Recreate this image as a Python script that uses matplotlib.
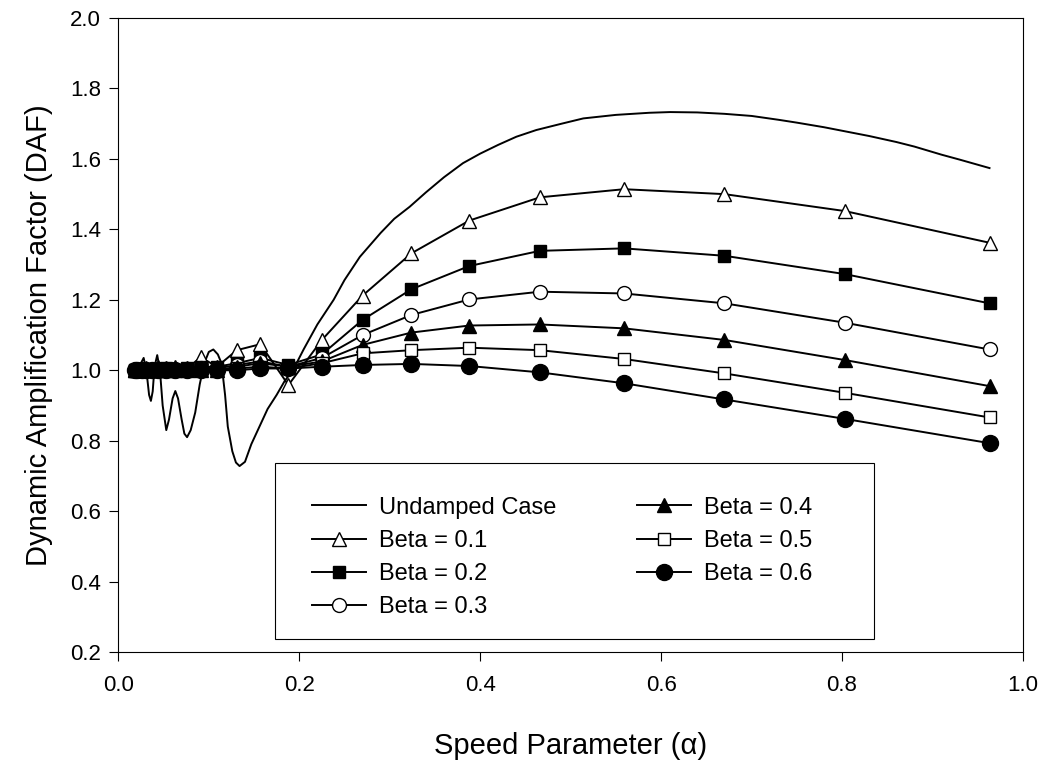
import matplotlib
matplotlib.use("Agg")
import matplotlib.pyplot as plt
from matplotlib.patches import Rectangle

plt.rcParams["font.family"] = ["Liberation Sans", "DejaVu Sans"]

# undamped response (dense, it oscillates a lot at low speed)
alpha_undamped = [0.018, 0.022, 0.025, 0.028, 0.031, 0.034, 0.036, 0.038, 0.040,
                  0.043, 0.046, 0.049, 0.053, 0.056, 0.060, 0.063, 0.066, 0.070,
                  0.073, 0.076, 0.080, 0.085, 0.090, 0.095, 0.100, 0.105, 0.110,
                  0.114, 0.118, 0.121, 0.126, 0.130, 0.134, 0.140, 0.147, 0.156,
                  0.165, 0.175, 0.184, 0.193, 0.205, 0.220, 0.238, 0.250, 0.267,
                  0.290, 0.305, 0.322, 0.340, 0.360, 0.381, 0.400, 0.420, 0.440,
                  0.462, 0.490, 0.514, 0.550, 0.587, 0.610, 0.640, 0.670, 0.700,
                  0.730, 0.750, 0.780, 0.800, 0.830, 0.860, 0.880, 0.910, 0.930,
                  0.963]
daf_undamped = [1.000, 1.005, 1.020, 1.035, 1.000, 0.930, 0.913, 0.940, 1.010,
                1.043, 1.000, 0.900, 0.830, 0.860, 0.920, 0.941, 0.920, 0.860,
                0.820, 0.810, 0.830, 0.880, 0.960, 1.020, 1.052, 1.059, 1.045,
                1.020, 0.930, 0.840, 0.770, 0.738, 0.728, 0.740, 0.790, 0.840,
                0.890, 0.930, 0.970, 1.000, 1.060, 1.130, 1.200, 1.256, 1.322,
                1.390, 1.430, 1.464, 1.505, 1.548, 1.588, 1.615, 1.640, 1.663,
                1.682, 1.700, 1.715, 1.725, 1.731, 1.733, 1.732, 1.728, 1.722,
                1.711, 1.703, 1.690, 1.680, 1.665, 1.648, 1.635, 1.612, 1.598,
                1.574]

# speed parameter of the damped runs
alpha = [0.963, 0.803, 0.670, 0.559, 0.466, 0.388, 0.324, 0.270, 0.225, 0.188,
         0.157, 0.131, 0.109, 0.091, 0.076, 0.063, 0.053, 0.044, 0.037, 0.031,
         0.026, 0.021, 0.018]

beta_01 = [1.362, 1.452, 1.500, 1.514, 1.491, 1.425, 1.332, 1.212, 1.086, 0.958,
           1.074, 1.057, 1.010, 1.037, 1.005, 1.010, 1.005, 1.010, 1.000, 1.005,
           1.000, 1.000, 1.000]
beta_02 = [1.190, 1.273, 1.325, 1.346, 1.339, 1.296, 1.230, 1.143, 1.045, 1.015,
           1.035, 1.020, 1.010, 1.010, 1.005, 1.000, 1.005, 1.000, 1.000, 1.000,
           1.000, 1.000, 1.000]
beta_03 = [1.059, 1.135, 1.190, 1.218, 1.223, 1.201, 1.157, 1.100, 1.035, 1.010,
           1.025, 1.015, 1.005, 1.005, 1.000, 1.000, 1.000, 1.000, 1.000, 1.000,
           1.000, 1.000, 1.000]
beta_04 = [0.955, 1.029, 1.086, 1.119, 1.130, 1.127, 1.107, 1.072, 1.025, 1.010,
           1.020, 1.010, 1.000, 1.000, 1.000, 1.000, 1.000, 1.000, 1.000, 1.000,
           1.000, 1.000, 1.000]
beta_05 = [0.866, 0.936, 0.991, 1.032, 1.057, 1.064, 1.057, 1.048, 1.020, 1.005,
           1.010, 1.005, 1.000, 1.000, 1.000, 1.000, 1.000, 1.000, 1.000, 1.000,
           1.000, 1.000, 1.000]
beta_06 = [0.793, 0.862, 0.917, 0.963, 0.994, 1.012, 1.018, 1.015, 1.010, 1.005,
           1.005, 1.000, 1.000, 1.000, 1.000, 1.000, 1.000, 1.000, 1.000, 1.000,
           1.000, 1.000, 1.000]

labels = ["Beta = 0.1", "Beta = 0.2", "Beta = 0.3",
          "Beta = 0.4", "Beta = 0.5", "Beta = 0.6"]

fig = plt.figure(figsize=(10.49, 7.67), dpi=100)
ax = fig.add_axes([0.1128, 0.1499, 0.8624, 0.8266])

lw = 1.4
ax.plot(alpha_undamped, daf_undamped, color="black", lw=lw, label="Undamped Case")

styles = [
    ("^", "white", 10),
    ("s", "black", 9),
    ("o", "white", 10),
    ("^", "black", 10),
    ("s", "white", 9),
    ("o", "black", 11.5),
]
for ys, lab, (mk, fc, ms) in zip([beta_01, beta_02, beta_03, beta_04, beta_05, beta_06],
                                 labels, styles):
    ax.plot(alpha, ys, color="black", lw=lw, marker=mk, markersize=ms,
            markerfacecolor=fc, markeredgecolor="black", markeredgewidth=1.0,
            label=lab)

ax.set_xlim(0.0, 1.0)
ax.set_ylim(0.2, 2.0)
ax.set_xticks([0.0, 0.2, 0.4, 0.6, 0.8, 1.0])
ax.set_yticks([0.2, 0.4, 0.6, 0.8, 1.0, 1.2, 1.4, 1.6, 1.8, 2.0])
ax.xaxis.set_major_formatter(matplotlib.ticker.FormatStrFormatter("%.1f"))
ax.yaxis.set_major_formatter(matplotlib.ticker.FormatStrFormatter("%.1f"))
ax.tick_params(direction="out", length=6.5, width=0.8, labelsize=16, color="black")
ax.tick_params(axis="x", pad=10)
ax.tick_params(axis="y", pad=6)
for sp in ax.spines.values():
    sp.set_linewidth(0.8)

ax.set_xlabel("Speed Parameter (\u03b1)", fontsize=21, labelpad=26)
ax.set_ylabel("Dynamic Amplification Factor (DAF)", fontsize=21, labelpad=12)

# legend box drawn separately so its padding can be set freely
box = Rectangle((0.173, 0.0205), 0.662, 0.2775, transform=ax.transAxes,
                facecolor="white", edgecolor="black", lw=0.8, zorder=4)
ax.add_patch(box)
leg = ax.legend(loc="upper left", bbox_to_anchor=(0.214, 0.245), ncol=2,
                frameon=False, fontsize=17, handlelength=2.3, handletextpad=0.55,
                columnspacing=3.4, labelspacing=0.47, borderpad=0, borderaxespad=0)
leg.set_zorder(5)

fig.savefig("out.png", dpi=100)
